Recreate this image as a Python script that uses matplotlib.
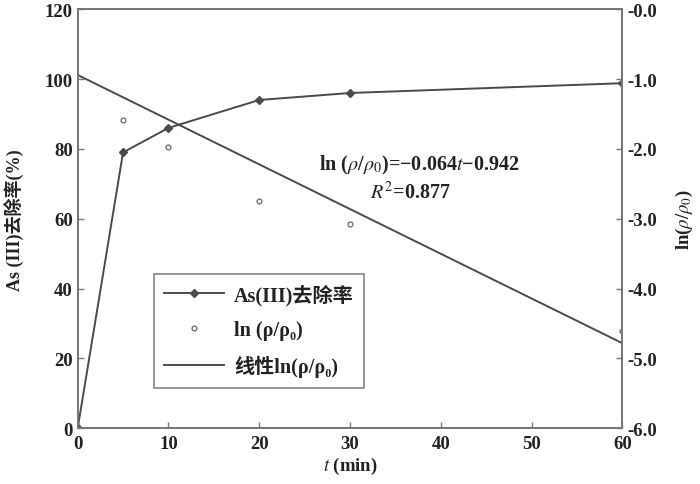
import matplotlib
matplotlib.use('Agg')
import matplotlib.pyplot as plt

plt.rcParams['font.family'] = ['Liberation Serif', 'Noto Sans CJK SC', 'DejaVu Serif']
plt.rcParams['mathtext.fontset'] = 'stix'

# removal rate data
t_rate = [0, 5, 10, 20, 30, 60]
removal = [0, 79, 86, 94, 96, 98.8]

# ln(rho/rho0) data
t_ln = [5, 10, 20, 30, 60]
ln_vals = [-1.59, -1.98, -2.75, -3.07, -4.61]

# linear fit
slope = -0.064
intercept = -0.942
t_fit = [0, 60]

x_ticks = [0, 10, 20, 30, 40, 50, 60]
left_ticks = [0, 20, 40, 60, 80, 100, 120]
right_ticks = [-6, -5, -4, -3, -2, -1, 0]
right_labels = ['-6.0', '-5.0', '-4.0', '-3.0', '-2.0', '-1.0', '-0.0']

col = '#4a4a4a'
txt = '#222222'

fig = plt.figure(figsize=(7, 4.85), dpi=100)
ax = fig.add_axes([0.111, 0.115, 0.778, 0.864])
ax2 = ax.twinx()

l1, = ax.plot(t_rate, removal, color=col, lw=1.4, marker='D', markersize=4,
              markerfacecolor=col, markeredgecolor=col, label='As(III)去除率')
l2, = ax2.plot(t_ln, ln_vals, linestyle='none', marker='o', markersize=3.5,
               markerfacecolor='white', markeredgecolor='#666666', markeredgewidth=0.9,
               label='ln (ρ/ρ₀)')
fit_y = [slope * t + intercept for t in t_fit]
l3, = ax2.plot(t_fit, fit_y, color=col, lw=1.4, label='线性ln(ρ/ρ₀)')

ax.set_xlim(0, 60)
ax.set_ylim(0, 120)
ax2.set_ylim(-6, 0)
ax.set_xticks(x_ticks)
ax.set_yticks(left_ticks)
ax2.set_yticks(right_ticks)
ax2.set_yticklabels(right_labels)

for a in (ax, ax2):
    for s in a.spines.values():
        s.set_color('#777777')
        s.set_linewidth(1.3)
    a.tick_params(direction='in', length=4, color='#777777', labelsize=13.5,
                  labelcolor=txt, width=1.0)
ax.tick_params(axis='x', pad=5)

for lab in ax.get_xticklabels() + ax.get_yticklabels() + ax2.get_yticklabels():
    lab.set_fontweight('bold')

ax.set_xlabel(r'$t$ (min)', fontsize=13.5, color=txt, fontweight='bold', labelpad=2)
ax.set_ylabel('As (III)去除率(%)', fontsize=13, color=txt, fontweight='bold', labelpad=14)
ax2.set_ylabel(r'ln($\rho$/$\rho_0$)', fontsize=13.5, color=txt, fontweight='bold', labelpad=12)

ax.text(0.628, 0.63, r'ln ($\rho$/$\rho_0$)=−0.064$t$−0.942', transform=ax.transAxes,
        ha='center', va='center', fontsize=14.5, color=txt, fontweight='bold')
ax.text(0.61, 0.563, r'$R^2$=0.877', transform=ax.transAxes,
        ha='center', va='center', fontsize=14.5, color=txt, fontweight='bold')

leg = ax.legend(handles=[l1, l2, l3], loc='lower left', bbox_to_anchor=(0.121, 0.073),
                fontsize=14.5, frameon=True, fancybox=False, handlelength=3.0,
                borderpad=0.5, labelspacing=0.75, handletextpad=0.5)
leg.get_frame().set_edgecolor('#666666')
leg.get_frame().set_linewidth(1.2)
for t in leg.get_texts():
    t.set_fontweight('bold')
    t.set_color(txt)

fig.savefig('out.png', dpi=100)
